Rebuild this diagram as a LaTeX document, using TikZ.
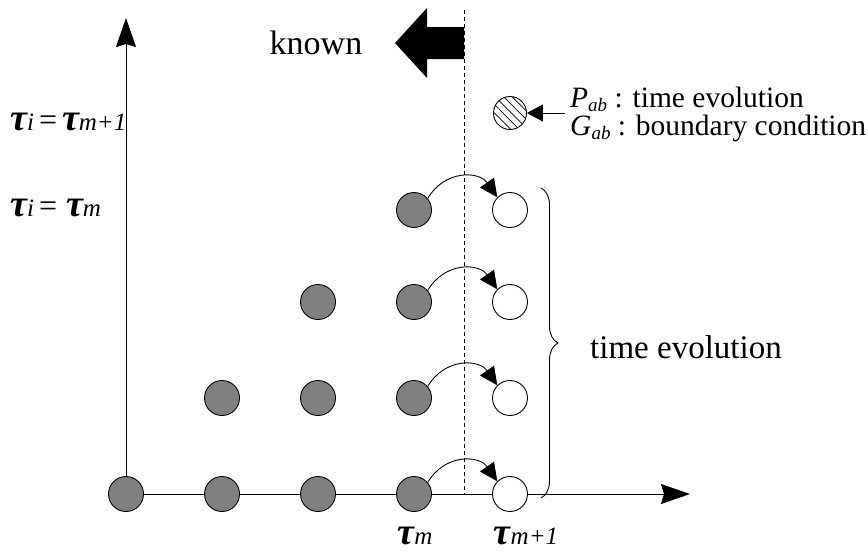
\documentclass[tikz,border=0pt]{standalone}
\usepackage{fontspec}
\setmainfont{Liberation Serif}
\usetikzlibrary{positioning}
\usetikzlibrary{arrows.meta}
\usetikzlibrary{patterns.meta}
\usetikzlibrary{decorations.pathreplacing}
\tikzset{
  known dot/.style={circle, draw, line width=0.9pt, fill=black!50, minimum size=35pt, inner sep=0pt},
  new dot/.style={circle, draw, line width=0.9pt, fill=white, minimum size=35pt, inner sep=0pt},
  axis/.style={line width=1pt, -{Stealth[length=29pt, width=20pt, inset=3pt]}},
  step arrow/.style={line width=0.9pt, -{Triangle[length=18pt, width=17pt]}},
  big font/.style={font=\fontsize{33}{38}\selectfont},
  legend font/.style={font=\fontsize{29.5}{34}\selectfont}
}
\newcommand{\tauL}{{\fontsize{38}{38}\selectfont\bfseries\itshape τ}}
\newcommand{\subL}[1]{{\fontsize{25}{25}\selectfont\itshape #1}}
\newcommand{\subS}[1]{{\fontsize{19}{19}\selectfont\raisebox{-4pt}{\itshape #1}}}
\newcommand{\eqL}{{\fontsize{32}{32}\selectfont\hspace{5pt}=\hspace{5pt}}}

\begin{document}
\begin{tikzpicture}[x=1pt, y=-1pt]
    \useasboundingbox (0,0) rectangle (868,552);
    % axes
    \coordinate (O) at (126,494);
    \draw[axis] (O) -- (690,494);
    \draw[axis] (O) -- (126,18);
    \draw[line width=0.8pt, dash pattern=on 4pt off 3pt] (464,10) -- (464,494);
    % known points
    \foreach \r/\y/\from in {0/494/0, 1/398/1, 2/302/2, 3/210/3} {
        \foreach \c in {\from,...,3}
            \node[known dot] (k\r\c) at (126+96*\c,\y) {};
        \node[new dot] (n\r) at (510,\y) {};
        \draw[step arrow] (k\r3.40) to[out=60, in=125, looseness=1.2] (n\r.135);
    }
    % arrow for known
    \fill (464,27) -- (427,27) -- (427,8) -- (395,43) -- (427,78) -- (427,59) -- (464,59) -- cycle;
    \node[big font, font=\fontsize{34}{38}\selectfont] (known) at (316,43) {known};
    % legend
    \node[circle, draw, line width=0.9pt, minimum size=33pt, inner sep=0pt,
          pattern={Lines[angle=-45, distance=6pt, line width=0.8pt]}] (hatch) at (510,113) {};
    \coordinate (lg) at (565,113);
    \draw[line width=0.9pt, -{Triangle[length=16pt, width=17pt]}] (lg) -- (hatch.east);
    \node[legend font, anchor=west, inner sep=0pt] (lgP) at (570,99) {\textit{P}\subS{ab} : time evolution};
    \node[legend font, anchor=west, inner sep=0pt] (lgG) at (570,128) {\textit{G}\subS{ab} : boundary condition};
    % brace
    \draw[line width=0.9pt, decorate, decoration={brace, amplitude=17pt}] (541,188) -- (541,498);
    \node[big font] (evol) at (686,347) {time evolution};
    % tau labels
    \node[anchor=west, inner sep=0pt] (ttop) at (10,122) {\tauL\subL{i}\eqL\tauL\subL{m+1}};
    \node[anchor=west, inner sep=0pt] (tbot) at (10,208) {\tauL\subL{i}\eqL\hspace{4pt}\tauL\subL{m}};
    \node[inner sep=0pt] (tm) at (415,536) {\tauL\subL{m}};
    \node[inner sep=0pt] (tm1) at (526,536) {\tauL\subL{m+1}};
\end{tikzpicture}
\end{document}
